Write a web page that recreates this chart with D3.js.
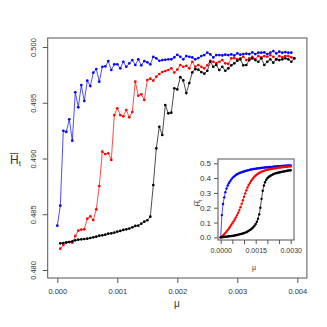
<!DOCTYPE html>
<html>
<head>
<meta charset="utf-8">
<script src="https://cdn.jsdelivr.net/npm/d3@7"></script>
<style>
  body { margin: 0; background: #fff; }
  svg { display: block; font-family: "Liberation Sans", Arial, sans-serif; }
</style>
</head>
<body>
<svg id="chart" width="327" height="327"></svg>
<script>
// main panel: mean H_t against mu, step 0.00005
const muStep = 0.00005;

const blueStart = 0;
const blueH = [
  0.48397, 0.48577, 0.49249, 0.49238, 0.49352, 0.49160, 0.49594, 0.49459, 0.49659, 0.49516,
  0.49698, 0.49650, 0.49770, 0.49803, 0.49689, 0.49823, 0.49827, 0.49874, 0.49794, 0.49845,
  0.49845, 0.49809, 0.49868, 0.49823, 0.49854, 0.49883, 0.49839, 0.49890, 0.49836, 0.49874,
  0.49863, 0.49845, 0.49913, 0.49899, 0.49877, 0.49883, 0.49886, 0.49890, 0.49890, 0.49908,
  0.49930, 0.49913, 0.49890, 0.49919, 0.49913, 0.49907, 0.49890, 0.49901, 0.49919, 0.49928,
  0.49949, 0.49934, 0.49907, 0.49928, 0.49928, 0.49925, 0.49931, 0.49928, 0.49934, 0.49925,
  0.49943, 0.49931, 0.49937, 0.49940, 0.49937, 0.49952, 0.49937, 0.49949, 0.49949, 0.49952,
  0.49937, 0.49949, 0.49964, 0.49943, 0.49958, 0.49949, 0.49955, 0.49949, 0.49949
];

const redStart = 1;
const redH = [
  0.48191, 0.48224, 0.48245, 0.48251, 0.48245, 0.48305, 0.48353, 0.48362, 0.48365, 0.48460,
  0.48482, 0.48448, 0.48544, 0.48753, 0.49061, 0.49040, 0.49047, 0.48987, 0.49390, 0.49450,
  0.49390, 0.49378, 0.49435, 0.49369, 0.49417, 0.49689, 0.49563, 0.49576, 0.49525, 0.49704,
  0.49716, 0.49698, 0.49734, 0.49758, 0.49776, 0.49785, 0.49794, 0.49809, 0.49771, 0.49798,
  0.49839, 0.49823, 0.49832, 0.49809, 0.49868, 0.49823, 0.49839, 0.49823, 0.49809, 0.49836,
  0.49877, 0.49868, 0.49854, 0.49868, 0.49883, 0.49854, 0.49848, 0.49899, 0.49901, 0.49890,
  0.49899, 0.49913, 0.49883, 0.49899, 0.49913, 0.49892, 0.49919, 0.49908, 0.49919, 0.49913,
  0.49928, 0.49913, 0.49890, 0.49919, 0.49908, 0.49919, 0.49919, 0.49908, 0.49899
];

const blackStart = 1;
const blackH = [
  0.48239, 0.48242, 0.48248, 0.48251, 0.48257, 0.48266, 0.48272, 0.48275, 0.48278, 0.48281,
  0.48287, 0.48293, 0.48299, 0.48308, 0.48311, 0.48317, 0.48326, 0.48329, 0.48335, 0.48344,
  0.48350, 0.48359, 0.48365, 0.48371, 0.48383, 0.48395, 0.48397, 0.48415, 0.48433, 0.48446,
  0.48478, 0.48762, 0.49091, 0.49285, 0.49211, 0.49480, 0.49405, 0.49411, 0.49630, 0.49620,
  0.49730, 0.49700, 0.49587, 0.49677, 0.49772, 0.49802, 0.49797, 0.49775, 0.49761, 0.49787,
  0.49868, 0.49823, 0.49839, 0.49794, 0.49823, 0.49787, 0.49809, 0.49836, 0.49854, 0.49877,
  0.49890, 0.49836, 0.49839, 0.49883, 0.49899, 0.49883, 0.49868, 0.49899, 0.49839, 0.49868,
  0.49890, 0.49860, 0.49890, 0.49883, 0.49890, 0.49899, 0.49890, 0.49868, 0.49899
];

// inset: H_t from 0 to 0.003
const insetStep = 0.00005;
const insetBlue = [
  0.000, 0.150, 0.225, 0.270, 0.305, 0.330, 0.350, 0.365, 0.378, 0.390,
  0.400, 0.408, 0.415, 0.421, 0.426, 0.430, 0.434, 0.437, 0.440, 0.443,
  0.445, 0.448, 0.450, 0.452, 0.454, 0.456, 0.458, 0.459, 0.461, 0.462,
  0.464, 0.465, 0.466, 0.467, 0.468, 0.469, 0.470, 0.471, 0.472, 0.473,
  0.473, 0.474, 0.475, 0.476, 0.476, 0.477, 0.478, 0.478, 0.479, 0.480,
  0.480, 0.481, 0.482, 0.482, 0.483, 0.483, 0.484, 0.485, 0.485, 0.486, 0.486
];
const insetRed = [
  0.000, 0.006, 0.013, 0.021, 0.030, 0.039, 0.049, 0.060, 0.071, 0.083,
  0.095, 0.108, 0.121, 0.135, 0.150, 0.166, 0.184, 0.204, 0.226, 0.250,
  0.274, 0.297, 0.318, 0.337, 0.353, 0.367, 0.380, 0.391, 0.401, 0.410,
  0.418, 0.424, 0.430, 0.435, 0.439, 0.443, 0.446, 0.449, 0.452, 0.454,
  0.456, 0.458, 0.460, 0.462, 0.463, 0.465, 0.466, 0.467, 0.469, 0.470,
  0.471, 0.472, 0.473, 0.474, 0.475, 0.476, 0.477, 0.477, 0.478, 0.479, 0.479
];
const insetBlack = [
  0.000, 0.001, 0.002, 0.003, 0.004, 0.005, 0.006, 0.007, 0.008, 0.009,
  0.010, 0.011, 0.013, 0.014, 0.016, 0.018, 0.020, 0.022, 0.024, 0.026,
  0.029, 0.032, 0.035, 0.039, 0.044, 0.049, 0.055, 0.062, 0.070, 0.079,
  0.090, 0.105, 0.125, 0.155, 0.200, 0.260, 0.315, 0.350, 0.372, 0.388,
  0.399, 0.407, 0.413, 0.418, 0.422, 0.426, 0.429, 0.432, 0.434, 0.436,
  0.438, 0.440, 0.442, 0.444, 0.445, 0.447, 0.448, 0.450, 0.451, 0.452, 0.453
];

const mainTicksX = [0, 0.001, 0.002, 0.003, 0.004];
const mainTicksY = [0.480, 0.485, 0.490, 0.495, 0.500];
const insetTicksX = [0, 0.0005, 0.001, 0.0015, 0.002, 0.0025, 0.003];
const insetLabelsX = [0, 0.0015, 0.003];
const insetTicksY = [0, 0.1, 0.2, 0.3, 0.4, 0.5];

const seriesColors = ["#0000ff", "#ff0000", "#000000"];

const toPoints = (vals, start, step) => vals.map((v, i) => ({ mu: (start + i) * step, h: v }));

const mainSeries = [
  toPoints(blueH, blueStart, muStep),
  toPoints(redH, redStart, muStep),
  toPoints(blackH, blackStart, muStep)
];
const insetSeries = [
  toPoints(insetBlue, 0, insetStep),
  toPoints(insetRed, 0, insetStep),
  toPoints(insetBlack, 0, insetStep)
];

const svg = d3.select("#chart");
svg.append("rect").attr("width", 327).attr("height", 327).attr("fill", "#fff");

const axisCol = "#555";
const textCol = "#333";

// ---- main panel ----
const box = { left: 47.7, right: 306.9, top: 38, bottom: 278 };
const x = d3.scaleLinear().domain([-0.00016, 0.00416]).range([box.left, box.right]);
const y = d3.scaleLinear().domain([0.47928, 0.50081]).range([box.bottom, box.top]);

const styleAxis = (g) => {
  g.select(".domain").remove();
  g.selectAll(".tick line").attr("stroke", axisCol);
  g.selectAll(".tick text").attr("fill", textCol);
};

svg.append("g")
  .attr("transform", `translate(0,${box.bottom})`)
  .call(d3.axisBottom(x).tickValues(mainTicksX).tickFormat(d3.format(".3f")).tickSize(5).tickPadding(6))
  .call(styleAxis)
  .selectAll("text").style("font-size", "7.5px");

const gy = svg.append("g")
  .attr("transform", `translate(${box.left},0)`)
  .call(d3.axisLeft(y).tickValues(mainTicksY).tickFormat(d3.format(".3f")).tickSize(5))
  .call(styleAxis);
gy.selectAll("text")
  .style("font-size", "7.5px")
  .attr("text-anchor", "middle")
  .attr("x", 0).attr("y", -12).attr("dy", 0)
  .attr("transform", "rotate(-90)");

const line = d3.line().x(d => x(d.mu)).y(d => y(d.h));

mainSeries.forEach((pts, k) => {
  const g = svg.append("g");
  g.append("path").datum(pts)
    .attr("d", line).attr("fill", "none")
    .attr("stroke", seriesColors[k]).attr("stroke-width", 0.7);
  g.selectAll("circle").data(pts).enter().append("circle")
    .attr("cx", d => x(d.mu)).attr("cy", d => y(d.h))
    .attr("r", 1.35).attr("fill", seriesColors[k]);
});

svg.append("rect")
  .attr("x", box.left).attr("y", box.top)
  .attr("width", box.right - box.left).attr("height", box.bottom - box.top)
  .attr("fill", "none").attr("stroke", axisCol).attr("stroke-width", 1);

// axis titles
svg.append("text").attr("x", 177).attr("y", 307)
  .attr("text-anchor", "middle").attr("fill", textCol)
  .style("font-size", "10px").text("μ");

const yTitle = svg.append("text").attr("x", 10).attr("y", 164)
  .attr("fill", textCol).style("font-size", "12px");
yTitle.append("tspan").text("H");
yTitle.append("tspan").attr("dy", 2).style("font-size", "8px").text("t");
svg.append("line").attr("x1", 10).attr("x2", 18.5).attr("y1", 153.5).attr("y2", 153.5)
  .attr("stroke", textCol).attr("stroke-width", 0.8);

// ---- inset ----
const ib = { left: 218, right: 294, top: 159, bottom: 240 };
const xi = d3.scaleLinear().domain([-0.000116, 0.003141]).range([ib.left, ib.right]);
const yi = d3.scaleLinear().domain([-0.018, 0.529]).range([ib.bottom, ib.top]);

svg.append("rect")
  .attr("x", ib.left).attr("y", ib.top)
  .attr("width", ib.right - ib.left).attr("height", ib.bottom - ib.top)
  .attr("fill", "#fff");

svg.append("g")
  .attr("transform", `translate(0,${ib.bottom})`)
  .call(d3.axisBottom(xi).tickValues(insetTicksX)
    .tickFormat(d => insetLabelsX.includes(d) ? d3.format(".4f")(d) : "")
    .tickSize(4).tickPadding(4))
  .call(styleAxis)
  .selectAll("text").style("font-size", "7px");

svg.append("g")
  .attr("transform", `translate(${ib.left},0)`)
  .call(d3.axisLeft(yi).tickValues(insetTicksY).tickFormat(d3.format(".1f")).tickSize(4).tickPadding(3))
  .call(styleAxis)
  .selectAll("text").style("font-size", "8px");

const linei = d3.line().x(d => xi(d.mu)).y(d => yi(d.h));

insetSeries.forEach((pts, k) => {
  const g = svg.append("g");
  g.append("path").datum(pts)
    .attr("d", linei).attr("fill", "none")
    .attr("stroke", seriesColors[k]).attr("stroke-width", 0.7);
  g.selectAll("circle").data(pts).enter().append("circle")
    .attr("cx", d => xi(d.mu)).attr("cy", d => yi(d.h))
    .attr("r", 1.2).attr("fill", seriesColors[k]);
});

svg.append("rect")
  .attr("x", ib.left).attr("y", ib.top)
  .attr("width", ib.right - ib.left).attr("height", ib.bottom - ib.top)
  .attr("fill", "none").attr("stroke", axisCol).attr("stroke-width", 1);

svg.append("text").attr("x", 254).attr("y", 270)
  .attr("text-anchor", "middle").attr("fill", textCol)
  .style("font-size", "7px").text("μ");

const yiTitle = svg.append("text")
  .attr("transform", "translate(200,203) rotate(-90)")
  .attr("text-anchor", "middle").attr("fill", textCol)
  .style("font-size", "7px");
yiTitle.append("tspan").text("H");
yiTitle.append("tspan").attr("dy", 1.5).style("font-size", "5px").text("t");
svg.append("line").attr("x1", 194.3).attr("x2", 194.3).attr("y1", 200.5).attr("y2", 205)
  .attr("stroke", textCol).attr("stroke-width", 0.6);
</script>
</body>
</html>
